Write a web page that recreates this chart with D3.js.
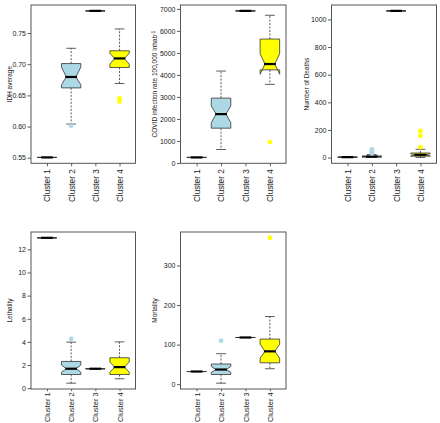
<!DOCTYPE html>
<html>
<head>
<meta charset="utf-8">
<script src="https://cdn.jsdelivr.net/npm/d3@7"></script>
<style>
  html, body { margin: 0; padding: 0; background: #fff; }
  svg { display: block; font-family: "Liberation Sans", Arial, sans-serif; }
</style>
</head>
<body>
<svg id="chart" width="440" height="423"></svg>
<script>
// ---------------- DATA ----------------
const clusters = ["Cluster 1", "Cluster 2", "Cluster 3", "Cluster 4"];
const clusterColors = ["#ADD8E6", "#ADD8E6", "#ADD8E6", "#FFFF00"];

// per cluster: [lower whisker, lower hinge, median, upper hinge, upper whisker]
const idhStats = [[0.5505,0.5505,0.5505,0.5505,0.5505],[0.604,0.662,0.6795,0.701,0.7255],[0.7855,0.7855,0.7855,0.7855,0.7855],[0.669,0.6947,0.7092,0.7215,0.7565]];
const idhNotch = [[0.5505,0.5505],[0.667,0.6955],[0.7855,0.7855],[0.700,0.7175]];
const idhOut = [[],[0.6015],[],[0.6455,0.640]];
const idhTicks = [0.55,0.60,0.65,0.70,0.75];

const covidStats = [[250,250,250,250,250],[610,1580,2220,2945,4175],[6910,6910,6910,6910,6910],[3570,4230,4494,5630,6710]];
const covidNotch = [[250,250],[1830,2590],[6910,6910],[4030,4960]];
const covidOut = [[],[],[],[950]];
const covidTicks = [0,1000,2000,3000,4000,5000,6000,7000];

const deathStats = [[3,3,3,3,3],[1,3,7,12,22],[1062,1062,1062,1062,1062],[1,10,20,33,60]];
const deathNotch = [[3,3],[5,9],[1062,1062],[12,28]];
const deathOut = [[],[30,40,50,60],[],[75,158,193]];
const deathTicks = [0,200,400,600,800,1000];

const lethStats = [[13,13,13,13,13],[0.43,1.18,1.68,2.31,3.98],[1.68,1.68,1.68,1.68,1.68],[0.81,1.18,1.82,2.63,4.0]];
const lethNotch = [[13,13],[1.38,2.0],[1.68,1.68],[1.38,2.26]];
const lethOut = [[],[4.27],[],[]];
const lethTicks = [0,2,4,6,8,10,12];

const mortStats = [[32,32,32,32,32],[2.5,24.5,37,51,77],[118,118,118,118,118],[39,54,83,114,171]];
const mortNotch = [[32,32],[30,44.5],[118,118],[66,101]];
const mortOut = [[],[110],[],[370]];
const mortTicks = [0,100,200,300];

// ---------------- LAYOUT ----------------
const cols = [[31,135.5],[180.5,286],[331.5,436.5]];
const rows = [[5,163.3],[232,389]];
const rowTick = [3, 2.2];
const rowLabelGap = [6, 3.4];
const rowLabelSize = [8.2, 7.4];
const titleX = [11.5, 157, 309];

const panels = [
  {stats: idhStats, notch: idhNotch, out: idhOut, ticks: idhTicks, fmt: d3.format(".2f"), title: "IDH average", c: 0, r: 0},
  {stats: covidStats, notch: covidNotch, out: covidOut, ticks: covidTicks, fmt: d3.format("d"), title: "COVID", c: 1, r: 0},
  {stats: deathStats, notch: deathNotch, out: deathOut, ticks: deathTicks, fmt: d3.format("d"), title: "Number of Deaths", c: 2, r: 0},
  {stats: lethStats, notch: lethNotch, out: lethOut, ticks: lethTicks, fmt: d3.format("d"), title: "Lethality", c: 0, r: 1},
  {stats: mortStats, notch: mortNotch, out: mortOut, ticks: mortTicks, fmt: d3.format("d"), title: "Mortality", c: 1, r: 1}
];

const svg = d3.select("#chart");
const ink = "#333";

panels.forEach(p => {
  const [x0, x1] = cols[p.c];
  const [y0, y1] = rows[p.r];
  const all = p.stats.flat().concat(p.out.flat());
  const lo = d3.min(all), hi = d3.max(all), pad = (hi - lo) * 0.04;
  const x = d3.scaleLinear().domain([0.34, 4.66]).range([x0, x1]);
  const y = d3.scaleLinear().domain([lo - pad, hi + pad]).range([y1, y0]);
  const g = svg.append("g");

  // y axis
  const ya = g.append("g").attr("transform", `translate(${x0},0)`)
    .call(d3.axisLeft(y).tickValues(p.ticks).tickFormat(p.fmt).tickSize(3.5).tickPadding(1.5));
  ya.select(".domain").remove();
  ya.selectAll("line").attr("stroke", ink).attr("stroke-width", 0.8);
  ya.selectAll("text").attr("font-size", 7).attr("fill", "#222").attr("font-family", "Liberation Sans, Arial, sans-serif");

  // x axis
  const xa = g.append("g").attr("transform", `translate(0,${y1})`)
    .call(d3.axisBottom(x).tickValues([1,2,3,4]).tickFormat(i => clusters[i-1]).tickSize(rowTick[p.r]).tickPadding(2));
  xa.select(".domain").remove();
  xa.selectAll("line").attr("stroke", ink).attr("stroke-width", 0.8);
  xa.selectAll("text")
    .attr("font-size", rowLabelSize[p.r]).attr("fill", "#222").attr("font-family", "Liberation Sans, Arial, sans-serif")
    .attr("transform", "rotate(-90)")
    .attr("text-anchor", "end")
    .attr("x", -rowLabelGap[p.r]).attr("y", 0).attr("dy", "0.35em");

  // y title
  const t = g.append("text")
    .attr("transform", `translate(${titleX[p.c]},${(y0 + y1) / 2}) rotate(-90)`)
    .attr("text-anchor", "middle")
    .attr("font-size", 6.5).attr("fill", "#222");
  if (p.title === "COVID") {
    t.append("tspan").text("COVID infection rate 100,000 inhab");
    t.append("tspan").attr("dy", "-0.5em").attr("font-size", 4.5).text("-1");
  } else {
    t.text(p.title);
  }

  // boxes
  p.stats.forEach((s, i) => {
    const cx = i + 1;
    const [wLo, hLo, med, hHi, wHi] = s;
    const [nLo, nHi] = p.notch[i];
    const col = clusterColors[i];
    // whiskers
    g.append("line").attr("x1", x(cx)).attr("x2", x(cx)).attr("y1", y(hHi)).attr("y2", y(wHi))
      .attr("stroke", ink).attr("stroke-width", 0.8).attr("stroke-dasharray", "2,1.5");
    g.append("line").attr("x1", x(cx)).attr("x2", x(cx)).attr("y1", y(hLo)).attr("y2", y(wLo))
      .attr("stroke", ink).attr("stroke-width", 0.8).attr("stroke-dasharray", "2,1.5");
    [wLo, wHi].forEach(v => {
      g.append("line").attr("x1", x(cx - 0.2)).attr("x2", x(cx + 0.2)).attr("y1", y(v)).attr("y2", y(v))
        .attr("stroke", ink).attr("stroke-width", 0.8);
    });
    // notched box
    const pts = [
      [cx - 0.4, hLo], [cx - 0.4, nLo], [cx - 0.2, med], [cx - 0.4, nHi], [cx - 0.4, hHi],
      [cx + 0.4, hHi], [cx + 0.4, nHi], [cx + 0.2, med], [cx + 0.4, nLo], [cx + 0.4, hLo]
    ].map(d => [x(d[0]), y(d[1])]);
    g.append("polygon").attr("points", pts.map(d => d.join(",")).join(" "))
      .attr("fill", col).attr("stroke", ink).attr("stroke-width", 0.8).attr("stroke-linejoin", "miter");
    // median
    g.append("line").attr("x1", x(cx - 0.24)).attr("x2", x(cx + 0.24)).attr("y1", y(med)).attr("y2", y(med))
      .attr("stroke", "#000").attr("stroke-width", 2.2);
    // outliers
    p.out[i].forEach(v => {
      g.append("circle").attr("cx", x(cx)).attr("cy", y(v)).attr("r", 2.4).attr("fill", col);
    });
  });

  // frame
  g.append("rect").attr("x", x0).attr("y", y0).attr("width", x1 - x0).attr("height", y1 - y0)
    .attr("fill", "none").attr("stroke", "#555").attr("stroke-width", 1);
});
</script>
</body>
</html>
